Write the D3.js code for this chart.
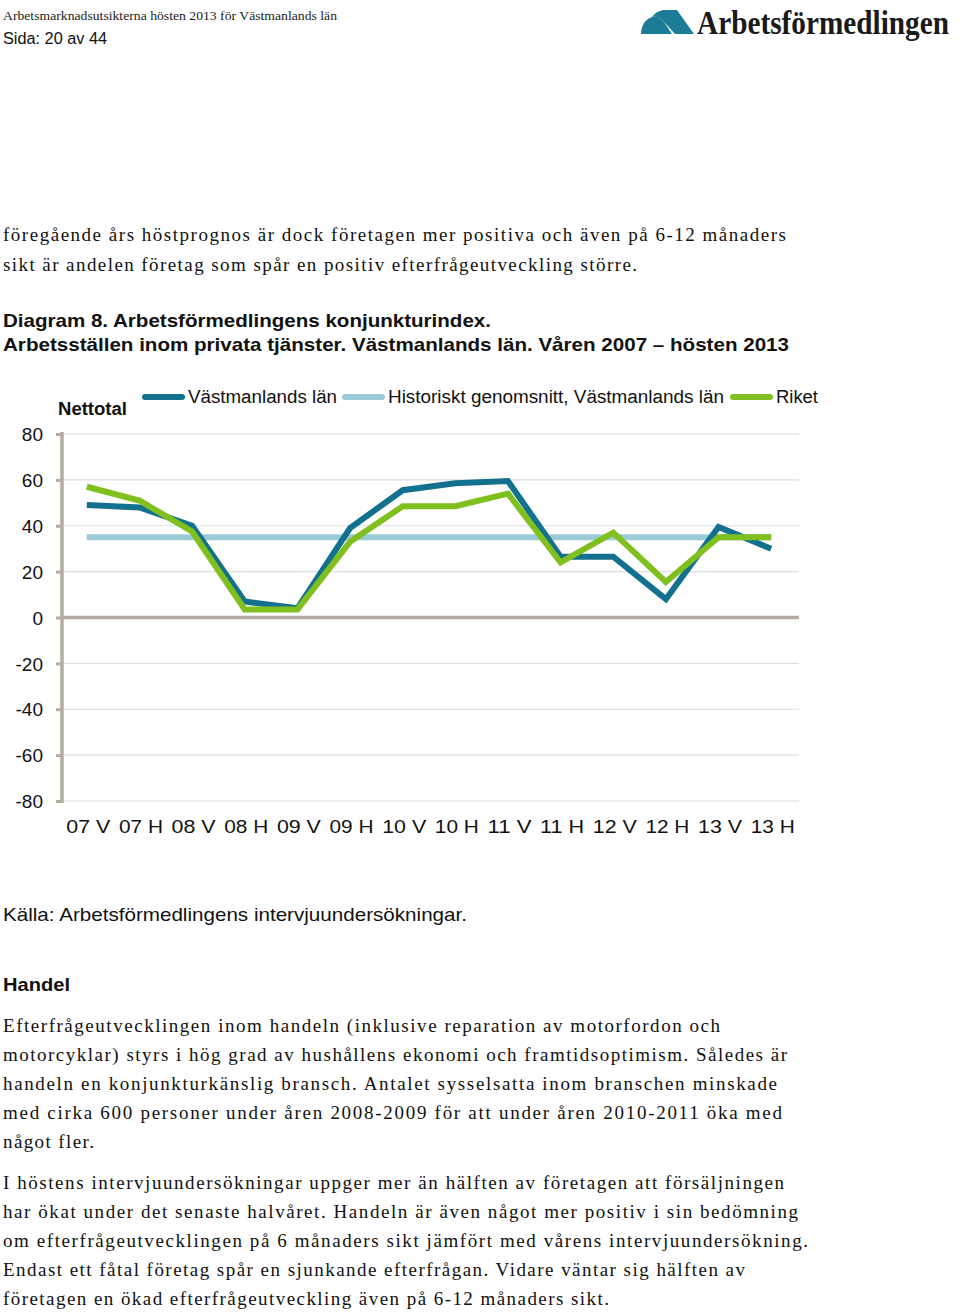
<!DOCTYPE html>
<html><head><meta charset="utf-8">
<script src="https://cdn.jsdelivr.net/npm/d3@7"></script>
<style>html,body{margin:0;padding:0;background:#fff;}svg{display:block;}</style>
</head><body>
<script>
const categories = ["07 V","07 H","08 V","08 H","09 V","09 H","10 V","10 H","11 V","11 H","12 V","12 H","13 V","13 H"];
const vastmanland = [49,48,40,7,4,39,55.5,58.5,59.5,26.5,26.5,8,39.5,30];
const historiskt = [35,35,35,35,35,35,35,35,35,35,35,35,35,35];
const riket = [57,51,37.5,3.5,3.5,33,48.5,48.5,54,24,37,15.5,35,35];
const yTicks = [80,60,40,20,0,-20,-40,-60,-80];
const seriesNames = ["Västmanlands län","Historiskt genomsnitt, Västmanlands län","Riket"];
const colors = ["#13708f","#9ccbd8","#7fbf1e"];

(function(){
const W=960,H=1312;
const svg=d3.select("body").append("svg").attr("width",W).attr("height",H);
const serif="'Liberation Serif','DejaVu Serif',serif";
const sans="'Liberation Sans',Arial,sans-serif";

function line(txt,x,y,len,opts={}){
  const t=svg.append("text").attr("x",x).attr("y",y)
   .attr("font-family",opts.family||serif).attr("font-size",opts.size||19)
   .attr("fill",opts.fill||"#111").text(txt);
  if(opts.bold) t.attr("font-weight","bold");
  if(len) t.attr("textLength",len).attr("lengthAdjust",opts.adj||"spacing");
  return t;
}

// header
line("Arbetsmarknadsutsikterna hösten 2013 för Västmanlands län",3,20,334,{size:13,adj:"spacingAndGlyphs",fill:"#222"});
line("Sida: 20 av 44",3,44,104,{family:sans,size:16,adj:"spacingAndGlyphs"});
// logo
svg.append("path").attr("fill","#1b7c98")
  .attr("d","M641,34 C641,26 645,19 652,17 C657,16 661,18 664,22 L672,34 Z");
svg.append("path").attr("fill","#1b7c98")
  .attr("d","M652,17 C656,12 660,10 665,10 L677,10 L694,34 L675,34 L664,22 C661,18 657,16 652,17 Z");
svg.append("text").attr("transform","translate(697,34) scale(0.75,1)")
  .attr("font-family",serif).attr("font-weight","bold").attr("font-size",34).attr("fill","#1a1a1a")
  .attr("textLength",336).attr("lengthAdjust","spacingAndGlyphs").text("Arbetsförmedlingen");

line("föregående års höstprognos är dock företagen mer positiva och även på 6-12 månaders",3,241,783);
line("sikt är andelen företag som spår en positiv efterfrågeutveckling större.",3,271,634);
line("Diagram 8. Arbetsförmedlingens konjunkturindex.",3,327,488,{family:sans,bold:true,adj:"spacingAndGlyphs"});
line("Arbetsställen inom privata tjänster. Västmanlands län. Våren 2007 – hösten 2013",3,351,786,{family:sans,bold:true,adj:"spacingAndGlyphs"});

// chart
const pl=62,pr=799,pt=434,pb=801;
const x=d3.scaleBand().domain(categories).range([pl,pr]);
const y=d3.scaleLinear().domain([-80,80]).range([pb,pt]);
const g=svg.append("g");
g.selectAll("line.grid").data(yTicks.filter(d=>d!==0)).join("line").attr("class","grid")
  .attr("x1",pl).attr("x2",pr).attr("y1",d=>y(d)).attr("y2",d=>y(d))
  .attr("stroke","#dedede").attr("stroke-width",1.2);
const yAxis=d3.axisLeft(y).tickValues(yTicks).tickSize(6).tickFormat(d=>String(d));
const ya=g.append("g").attr("transform",`translate(${pl},0)`).call(yAxis);
ya.select(".domain").attr("stroke","#b3ada1").attr("stroke-width",3.5).attr("d",`M0,${pt-2}V${pb+2}`);
ya.selectAll(".tick line").attr("stroke","#b3ada1").attr("stroke-width",3).attr("x2",-6);
ya.selectAll(".tick text").attr("font-family",sans).attr("font-size",19).attr("fill","#111")
  .attr("x",-19).attr("dy","0.35em");
g.append("line").attr("x1",pl).attr("x2",pr).attr("y1",y(0)).attr("y2",y(0))
  .attr("stroke","#b3ada1").attr("stroke-width",3.5);
const xAxis=d3.axisBottom(x).tickSize(0);
const xa=g.append("g").attr("transform",`translate(0,${pb})`).call(xAxis);
xa.select(".domain").remove();
xa.selectAll(".tick text").attr("font-family",sans).attr("font-size",19).attr("fill","#111")
  .attr("y",32).attr("dy",0).attr("textLength",44).attr("lengthAdjust","spacingAndGlyphs");

const lg=d3.line().x((d,i)=>x(categories[i])+x.bandwidth()/2-1.5).y(d=>y(d));
const data=[vastmanland,historiskt,riket];
[1,0,2].forEach(k=>{
  g.append("path").datum(data[k]).attr("d",lg).attr("fill","none")
   .attr("stroke",colors[k]).attr("stroke-width",6).attr("stroke-linejoin","miter").attr("stroke-linecap","butt");
});

const leg=[{x:142,tx:188,len:149},{x:342,tx:388,len:336},{x:730,tx:776,len:42}];
leg.forEach((l,i)=>{
  svg.append("line").attr("x1",l.x+3).attr("x2",l.x+40).attr("y1",397).attr("y2",397)
    .attr("stroke",colors[i]).attr("stroke-width",6).attr("stroke-linecap","round");
  line(seriesNames[i],l.tx,403,l.len,{family:sans,size:18,adj:"spacingAndGlyphs"});
});
line("Nettotal",58,415,69,{family:sans,size:18,bold:true,adj:"spacingAndGlyphs"});

line("Källa: Arbetsförmedlingens intervjuundersökningar.",3,921,464,{family:sans,adj:"spacingAndGlyphs"});
line("Handel",3,991,67,{family:sans,bold:true,adj:"spacingAndGlyphs"});

const p1=[["Efterfrågeutvecklingen inom handeln (inklusive reparation av motorfordon och",717],
["motorcyklar) styrs i hög grad av hushållens ekonomi och framtidsoptimism. Således är",784],
["handeln en konjunkturkänslig bransch. Antalet sysselsatta inom branschen minskade",774],
["med cirka 600 personer under åren 2008-2009 för att under åren 2010-2011 öka med",779],
["något fler.",91]];
p1.forEach((p,i)=>line(p[0],3,1032+i*29,p[1]));
const p2=[["I höstens intervjuundersökningar uppger mer än hälften av företagen att försäljningen",781],
["har ökat under det senaste halvåret. Handeln är även något mer positiv i sin bedömning",795],
["om efterfrågeutvecklingen på 6 månaders sikt jämfört med vårens intervjuundersökning.",805],
["Endast ett fåtal företag spår en sjunkande efterfrågan. Vidare väntar sig hälften av",742],
["företagen en ökad efterfrågeutveckling även på 6-12 månaders sikt.",606]];
p2.forEach((p,i)=>line(p[0],3,1189+i*29,p[1]));
})();
</script>
</body></html>
